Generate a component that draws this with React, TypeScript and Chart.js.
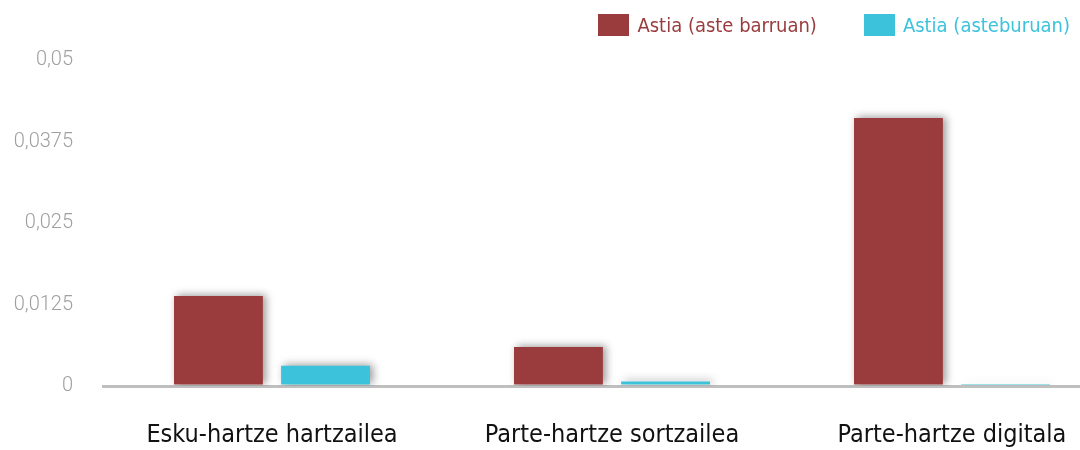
import React, { useEffect, useRef } from "react";
import { Chart, registerables } from "chart.js";

Chart.register(...registerables);

const categories = ["Esku-hartze hartzailea", "Parte-hartze sortzailea", "Parte-hartze digitala"];
const seriesNames = ["Astia (aste barruan)", "Astia (asteburuan)"];
const weekdayValues = [0.0138, 0.006, 0.0411];
const weekendValues = [0.0031, 0.0007, 0.0003];
const yTickValues = [0, 0.0125, 0.025, 0.0375, 0.05];
const seriesColors = ["#9a3c3d", "#3cc3db"];

const NARROW = "'DejaVu Sans Condensed', 'Liberation Sans Narrow', sans-serif";

const shadowPlugin = {
  id: "barShadow",
  beforeDatasetsDraw(chart: any) {
    const c = chart.ctx;
    c.save();
    c.shadowColor = "rgba(0,0,0,0.4)";
    c.shadowBlur = 8;
    c.shadowOffsetX = 3;
    c.shadowOffsetY = -1;
  },
  afterDatasetsDraw(chart: any) {
    chart.ctx.restore();
  },
};

export default function App() {
  const canvasRef = useRef<HTMLCanvasElement | null>(null);

  useEffect(() => {
    if (!canvasRef.current) return;
    const chart = new Chart(canvasRef.current, {
      type: "bar",
      data: {
        labels: categories,
        datasets: [
          {
            label: seriesNames[0],
            data: weekdayValues,
            backgroundColor: seriesColors[0],
            borderWidth: 0,
            barPercentage: 0.83,
            categoryPercentage: 0.63,
          },
          {
            label: seriesNames[1],
            data: weekendValues,
            backgroundColor: seriesColors[1],
            borderWidth: 0,
            barPercentage: 0.83,
            categoryPercentage: 0.63,
          },
        ],
      },
      options: {
        responsive: true,
        maintainAspectRatio: false,
        animation: false,
        layout: { padding: { top: 60, right: 8, left: 0, bottom: 0 } },
        plugins: {
          legend: { display: false },
          tooltip: { enabled: false },
        },
        scales: {
          x: {
            grid: { display: false },
            border: { display: false },
            ticks: {
              font: { family: NARROW, size: 25 },
              color: "#111111",
              padding: 26,
              maxRotation: 0,
              autoSkip: false,
            },
            afterFit: (s: any) => {
              s.height = 64;
            },
          },
          y: {
            min: 0,
            max: 0.05,
            afterFit: (s: any) => {
              s.width = 102;
            },
            afterBuildTicks: (s: any) => {
              s.ticks = yTickValues.map((v) => ({ value: v }));
            },
            ticks: {
              callback: (v: any) => String(v).replace(".", ","),
              font: { family: "Roboto", size: 20, weight: "300" },
              color: "#a0a0a0",
              padding: 29,
            },
            grid: {
              color: (ctx: any) => (ctx.tick && ctx.tick.value === 0 ? "#bfbfbf" : "rgba(0,0,0,0)"),
              lineWidth: 3,
              drawTicks: false,
            },
            border: { display: false },
          },
        },
      },
      plugins: [shadowPlugin],
    });
    return () => chart.destroy();
  }, []);

  return (
    <div
      style={{
        position: "absolute",
        left: 0,
        top: 0,
        width: 1080,
        height: 450,
        overflow: "hidden",
        background: "#ffffff",
      }}
    >
      <div style={{ position: "relative", width: 1130, height: 450 }}>
        <canvas ref={canvasRef} />
      </div>
      <div
        style={{
          position: "absolute",
          right: 10,
          top: 11,
          height: 28,
          display: "flex",
          alignItems: "center",
          fontFamily: NARROW,
          fontSize: 20,
        }}
      >
        {seriesNames.map((name, i) => (
          <div
            key={name}
            style={{ display: "flex", alignItems: "center", marginLeft: i === 0 ? 0 : 47 }}
          >
            <span
              style={{
                display: "inline-block",
                width: 31,
                height: 22,
                background: seriesColors[i],
                marginRight: 8,
              }}
            />
            <span style={{ color: seriesColors[i], whiteSpace: "nowrap" }}>{name}</span>
          </div>
        ))}
      </div>
    </div>
  );
}
